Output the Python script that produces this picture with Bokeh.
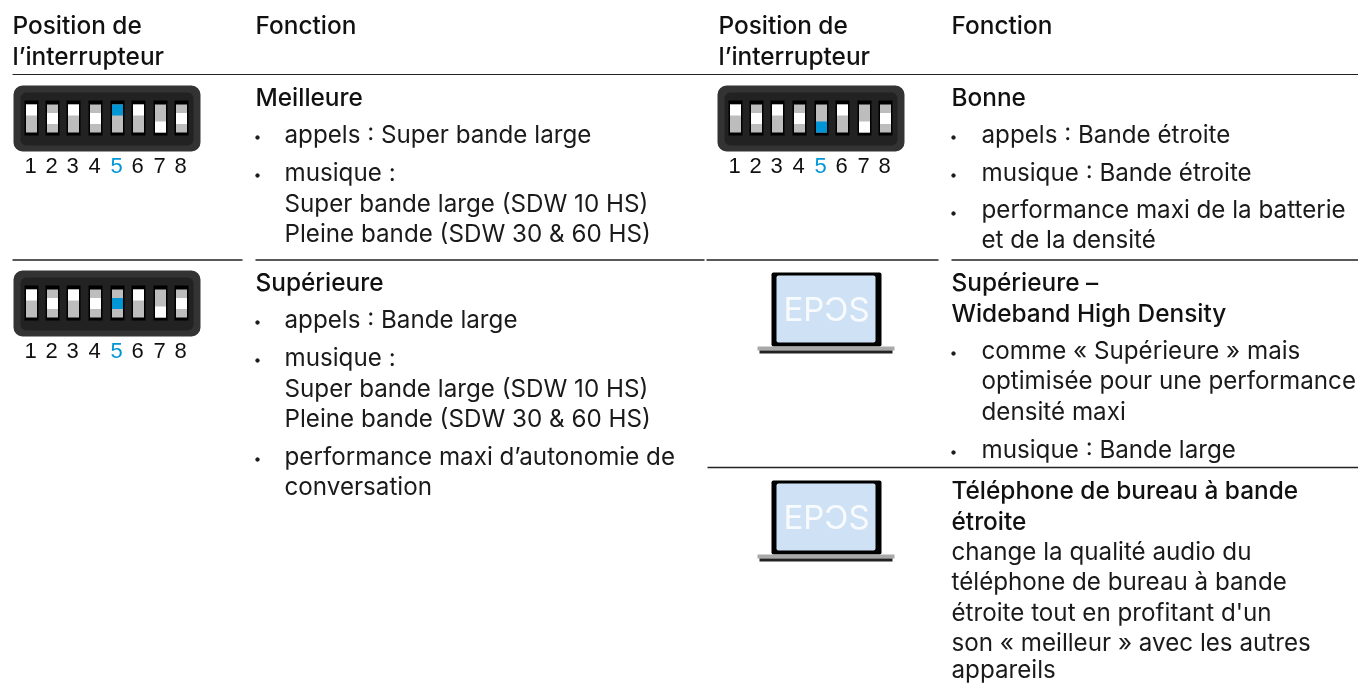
from bokeh.plotting import figure
from bokeh.embed import file_html
from bokeh.resources import INLINE
from bokeh.core.properties import value
from bokeh.models import Range1d

FONT = "Inter"
HEAD_FONT = "Inter Medium, Inter"
FS = 24.2
HFS = 24.4
TY = -9
INK = "#1a1a1a"
BLUE = "#0096d6"

# headings: (text, x, baseline y)
heads = [
    ("Position de", 12, 33), ("l’interrupteur", 12, 64), ("Fonction", 255, 33),
    ("Position de", 718, 33), ("l’interrupteur", 718, 64), ("Fonction", 951, 33),
    ("Meilleure", 255, 105), ("Supérieure", 255, 290), ("Bonne", 951, 105),
    ("Supérieure –", 951, 290), ("Wideband High Density", 951, 321),
    ("Téléphone de bureau à bande", 951, 498), ("étroite", 951, 529),
]
# body lines: (text, x, baseline y)
texts = [
    ("appels : Super bande large", 284, 143),
    ("musique :", 284, 181),
    ("Super bande large (SDW 10 HS)", 284, 212),
    ("Pleine bande (SDW 30 & 60 HS)", 284, 242),
    ("appels : Bande large", 284, 328),
    ("musique :", 284, 366),
    ("Super bande large (SDW 10 HS)", 284, 397),
    ("Pleine bande (SDW 30 & 60 HS)", 284, 427),
    ("performance maxi d’autonomie de", 284, 465),
    ("conversation", 284, 495),
    ("appels : Bande étroite", 981, 143),
    ("musique : Bande étroite", 981, 181),
    ("performance maxi de la batterie", 981, 218),
    ("et de la densité", 981, 248),
    ("comme « Supérieure » mais", 981, 359),
    ("optimisée pour une performance", 981, 389),
    ("densité maxi", 981, 420),
    ("musique : Bande large", 981, 458),
    ("change la qualité audio du", 951, 560),
    ("téléphone de bureau à bande", 951, 590),
    ("étroite tout en profitant d'un", 951, 621),
    ("son « meilleur » avec les autres", 951, 651),
    ("appareils", 951, 678),
]
bullets = [(257, 137), (257, 175), (257, 322), (257, 360), (257, 459),
           (953, 137), (953, 175), (953, 213), (953, 353), (953, 452)]

# rule segments: x0, x1, y, width
rules = [(12, 1358, 74, 1.2), (12, 242, 259.5, 1.6), (255, 704, 259.5, 1.6),
         (706, 938, 259.5, 1.6), (951, 1358, 259.5, 1.6), (707, 1358, 467, 1.6)]

# switch states: 0 top, 1 mid, 2 bottom white slider, by switch number
states = [0, 1, 0, 1, 0, 0, 2, 1]
# dip blocks: x, y, position of blue slider
dips = [(13, 85, 0), (13, 270, 1), (717, 85, 2)]
digits = ["1", "2", "3", "4", "5", "6", "7", "8"]
laptops = [(826, 272), (826, 480)]

p = figure(width=1358, height=684, output_backend="svg", toolbar_location=None,
           x_range=Range1d(0, 1358), y_range=Range1d(684, 0),
           min_border=0, outline_line_color=None, background_fill_color="white",
           styles={"position": "fixed", "left": "0", "top": "0"})
p.axis.visible = False
p.grid.visible = False

for x0, x1, y, w in rules:
    p.segment(x0, y, x1, y, line_color="#222222", line_width=w)

p.text([t[1] for t in texts], [t[2] + TY for t in texts], text=[t[0] for t in texts],
       text_font=value(FONT), text_font_size=f"{FS}px", text_color=INK,
       text_baseline="alphabetic", text_align="left")
p.text([t[1] for t in heads], [t[2] + TY for t in heads], text=[t[0] for t in heads],
       text_font=value(HEAD_FONT), text_font_size=f"{HFS}px", text_color="#111111",
       text_baseline="alphabetic", text_align="left")
p.scatter([b[0] for b in bullets], [b[1] for b in bullets], size=3.5, color=INK)

OFF = [18, 39, 60, 82, 104, 125, 147, 168]
for dx, dy, blue in dips:
    p.quad(left=dx, right=dx + 187, top=dy, bottom=dy + 66, fill_color="#333333",
           line_color=None, border_radius=9)
    p.quad(left=dx + 7, right=dx + 180, top=dy + 7, bottom=dy + 60, fill_color="#222222",
           line_color=None, border_radius=6)
    for i, off in enumerate(OFF):
        cx = dx + off
        p.quad(left=cx - 7, right=cx + 7, top=dy + 15, bottom=dy + 50, fill_color="#000000", line_color=None)
        p.quad(left=cx - 5.5, right=cx + 5.5, top=dy + 19, bottom=dy + 47, fill_color="#bdbdbd", line_color=None)
        s = blue if i == 4 else states[i]
        h0 = dy + 19 + s * 8.5
        p.quad(left=cx - 5.5, right=cx + 5.5, top=h0, bottom=h0 + 11,
               fill_color=BLUE if i == 4 else "#ffffff", line_color=None)
    p.text([dx + o - 1 for o in OFF], [dy + 89 + TY] * 8, text=digits,
           text_font=value("Liberation Sans"), text_font_size="22px",
           text_color=[BLUE if d == "5" else "#111111" for d in digits],
           text_align="center", text_baseline="alphabetic")

for cx, ty in laptops:
    p.quad(left=cx - 55, right=cx + 55, top=ty, bottom=ty + 74, fill_color="#000000", line_color=None, border_radius=2)
    p.quad(left=cx - 50, right=cx + 49, top=ty + 3, bottom=ty + 70, fill_color="#cfe2f5", line_color=None, border_radius=2)
    p.text([cx], [ty + 45 + TY], text=["EPƆS"], text_font=value("Inter"), text_font_size="33px",
           text_color="#ffffff", text_alpha=0.85, text_align="center", text_baseline="alphabetic")
    p.quad(left=cx - 69, right=cx + 68, top=ty + 74, bottom=ty + 78, fill_color="#a9a9a9", line_color=None)
    p.quad(left=cx - 67, right=cx + 66, top=ty + 78, bottom=ty + 81, fill_color="#222222", line_color=None)

open("out.html", "w").write(file_html(p, INLINE))
